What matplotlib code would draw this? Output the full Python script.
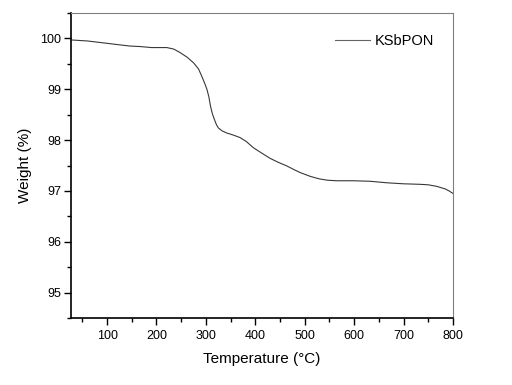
import numpy as np
import matplotlib.pyplot as plt
from matplotlib.ticker import MultipleLocator

plt.rcParams['font.family'] = ['Liberation Sans', 'DejaVu Sans']

# TGA curve
temperature = [27, 60, 86, 120, 146, 167, 190, 205, 221, 235, 248, 262, 275, 285,
               291, 297, 302, 306, 309, 313, 317, 321, 325, 333, 342, 355, 369, 382,
               396, 412, 430, 447, 464, 478, 491, 510, 528, 546, 565, 598, 632, 666,
               700, 733, 750, 767, 784, 792, 800]
weight = [99.97, 99.95, 99.92, 99.88, 99.85, 99.84, 99.82, 99.82, 99.82, 99.79, 99.72, 99.63, 99.52, 99.40,
          99.27, 99.13, 99.00, 98.85, 98.68, 98.52, 98.41, 98.31, 98.24, 98.18, 98.14, 98.10, 98.05, 97.97,
          97.85, 97.75, 97.64, 97.56, 97.49, 97.42, 97.36, 97.29, 97.24, 97.21, 97.20, 97.20, 97.19, 97.16,
          97.14, 97.13, 97.12, 97.09, 97.04, 97.00, 96.95]

fig = plt.figure(figsize=(5.12, 3.85), dpi=100)
ax = fig.add_axes([71/512, 1-318/385, (453-71)/512, (318-13)/385])

ax.plot(temperature, weight, color='#383838', lw=0.8, label='KSbPON')

ax.set_xlim(27, 800)
ax.set_ylim(94.5, 100.5)
ax.xaxis.set_major_locator(MultipleLocator(100))
ax.xaxis.set_minor_locator(MultipleLocator(50))
ax.yaxis.set_major_locator(MultipleLocator(1))
ax.yaxis.set_minor_locator(MultipleLocator(0.5))
ax.tick_params(which='both', direction='out', top=False, right=False, labelsize=9, width=1)
ax.tick_params(which='major', length=5)
ax.tick_params(which='minor', length=3)
ax.tick_params(axis='y', pad=2)

for s in ['left', 'bottom']:
    ax.spines[s].set_linewidth(1.2)
for s in ['top', 'right']:
    ax.spines[s].set_color('#808080')
    ax.spines[s].set_linewidth(0.8)

ax.set_xlabel('Temperature (°C)', fontsize=11, labelpad=7)
ax.set_ylabel('Weight (%)', fontsize=11, labelpad=6)

leg = ax.legend(loc='upper right', frameon=False, fontsize=10.5, handlelength=2.4,
                handletextpad=0.3, bbox_to_anchor=(0.985, 0.975))
leg.get_lines()[0].set_color('#666666')

plt.savefig('out.png', dpi=100)
